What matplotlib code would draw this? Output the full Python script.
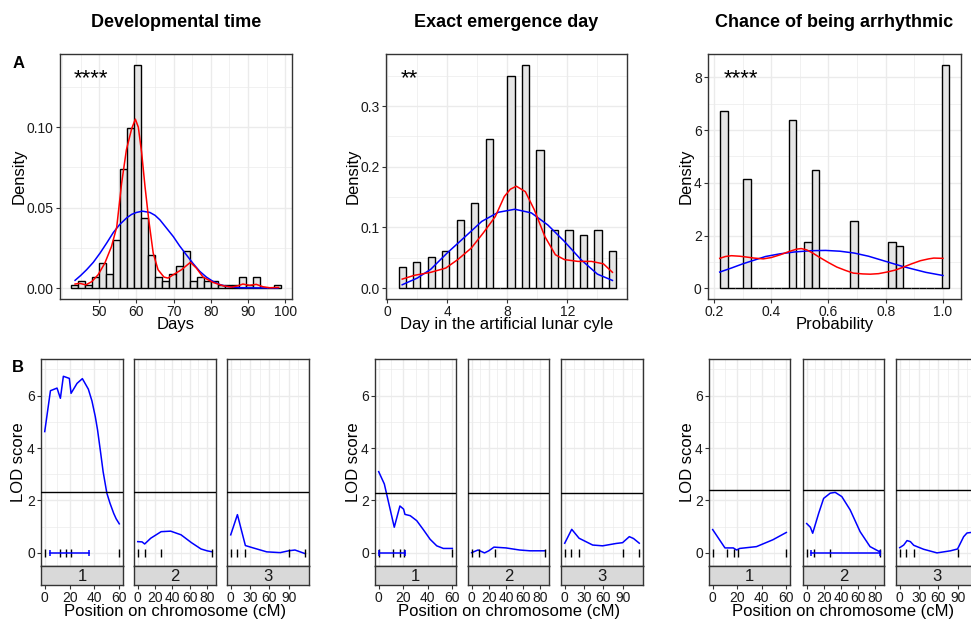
import numpy as np
import matplotlib.pyplot as plt
from matplotlib.ticker import MultipleLocator

plt.rcParams['font.family'] = ['Liberation Sans', 'DejaVu Sans']

W, H = 971, 621

# ---- top row: histograms (30 bins) ----
dev_start, dev_width = 42.4, 1.883
dev_density = [0.0019, 0.0043, 0.0019, 0.0066, 0.0157, 0.0087, 0.0296, 0.0739, 0.0992, 0.1387,
               0.0435, 0.0203, 0.0066, 0.0043, 0.0089, 0.0137, 0.0228, 0.0043, 0.0066, 0.0043,
               0.0043, 0.0019, 0.0019, 0.0019, 0.0066, 0.0019, 0.0066, 0.0, 0.0, 0.0019]

emg_start, emg_width = 0.7586, 0.4828
emg_density = [0.034, 0, 0.043, 0, 0.052, 0, 0.061, 0, 0.113, 0,
               0.140, 0, 0.246, 0, 0, 0.350, 0, 0.368, 0, 0.228,
               0, 0.095, 0, 0.095, 0, 0.087, 0, 0.095, 0, 0.061]

arr_start, arr_width = 0.221, 0.0267
arr_density = [6.71, 0, 0, 4.15, 0, 0, 0, 0, 0, 6.38,
               0, 1.75, 4.47, 0, 0, 0, 0, 2.54, 0, 0,
               0, 0, 1.75, 1.59, 0, 0, 0, 0, 0, 8.47]

# normal fit (blue) and kernel density (red)
dev_norm_x = [43.5, 45.0, 46.6, 48.4, 50.2, 52.0, 53.8, 55.5, 57.3, 58.7, 60.0, 61.6, 63.6, 65.0,
              66.3, 68.0, 69.9, 71.6, 73.4, 75.2, 77.0, 78.8, 80.6, 82.4, 84.2, 87.7, 98.0]
dev_norm_y = [0.0048, 0.0078, 0.0114, 0.0160, 0.0217, 0.0280, 0.0346, 0.0395, 0.0435, 0.0458,
              0.0470, 0.0478, 0.0470, 0.0452, 0.0424, 0.0375, 0.0320, 0.0262, 0.0207, 0.0153,
              0.0104, 0.0068, 0.0041, 0.0022, 0.0010, 0.0002, 0.0]
dev_kde_x = [43.5, 44.8, 46.4, 48.0, 49.7, 51.5, 53.3, 54.7, 56.0, 57.3, 58.7, 59.7, 60.5, 61.4,
             62.3, 63.3, 64.5, 65.8, 67.4, 68.5, 69.9, 72.1, 74.5, 76.1, 77.9, 80.6, 83.3, 85.5,
             87.3, 88.6, 90.4, 92.2, 94.0, 95.8, 98.2]
dev_kde_y = [0.0025, 0.0029, 0.0020, 0.0040, 0.0083, 0.0155, 0.0259, 0.0380, 0.0650, 0.0860,
             0.0990, 0.1050, 0.1000, 0.0840, 0.0630, 0.0424, 0.0217, 0.0114, 0.0068, 0.0062,
             0.0083, 0.0114, 0.0160, 0.0124, 0.0068, 0.0035, 0.0014, 0.0006, 0.0014, 0.0025,
             0.0017, 0.0023, 0.0008, 0.0002, 0.0004]

emg_norm_x = [1.0, 2.0, 2.9, 4.0, 5.2, 6.3, 7.4, 8.5, 9.6, 10.7, 11.8, 12.9, 14.0, 15.0]
emg_norm_y = [0.0055, 0.0165, 0.031, 0.058, 0.085, 0.110, 0.125, 0.130, 0.124, 0.104, 0.077,
              0.047, 0.023, 0.0126]
emg_kde_x = [1.0, 1.8, 2.9, 3.9, 4.7, 5.6, 6.4, 7.2, 7.8, 8.2, 8.6, 9.2, 9.8, 10.5, 11.2, 11.8,
             12.7, 13.6, 14.4, 15.0]
emg_kde_y = [0.0148, 0.021, 0.026, 0.033, 0.047, 0.066, 0.091, 0.118, 0.151, 0.163, 0.168,
             0.159, 0.129, 0.085, 0.055, 0.047, 0.044, 0.044, 0.040, 0.026]

arr_norm_x = [0.22, 0.26, 0.30, 0.34, 0.38, 0.43, 0.48, 0.54, 0.59, 0.64, 0.69, 0.74, 0.78,
              0.82, 0.86, 0.90, 0.94, 1.0]
arr_norm_y = [0.62, 0.77, 0.93, 1.07, 1.21, 1.31, 1.38, 1.43, 1.44, 1.41, 1.34, 1.22, 1.09,
              0.96, 0.83, 0.72, 0.61, 0.49]
arr_kde_x = [0.22, 0.24, 0.261, 0.29, 0.313, 0.34, 0.372, 0.40, 0.43, 0.46, 0.489, 0.505, 0.524,
             0.545, 0.57, 0.60, 0.629, 0.66, 0.687, 0.72, 0.746, 0.775, 0.804, 0.835, 0.862,
             0.89, 0.921, 0.95, 0.968, 1.0]
arr_kde_y = [1.14, 1.21, 1.24, 1.22, 1.19, 1.15, 1.12, 1.17, 1.27, 1.39, 1.49, 1.51, 1.46,
             1.34, 1.17, 0.98, 0.81, 0.68, 0.58, 0.55, 0.54, 0.56, 0.62, 0.70, 0.81, 0.93,
             1.05, 1.12, 1.15, 1.14]

# ---- bottom row: LOD profiles ----
chr_names = ['1', '2', '3']
chr_len = [60, 86, 116]
chr_ticks = [[0, 20, 40, 60], [0, 20, 40, 60, 80], [0, 30, 60, 90]]
chr_markers = [[0, 12, 17, 21, 60], [0, 8, 27, 86], [0, 10, 22, 90, 116]]

dev_c1_pos = [0, 4.6, 9.9, 12.6, 15, 19.8, 21.2, 26, 30.3, 35.1, 38, 40.7, 42.5, 44.7, 47, 50,
              52.5, 55.5, 57.5, 60]
dev_c1_lod = [4.63, 6.19, 6.29, 5.90, 6.74, 6.66, 6.09, 6.47, 6.65, 6.25, 5.80, 5.20, 4.70,
              3.93, 3.10, 2.28, 1.90, 1.51, 1.30, 1.11]
dev_c2_pos = [0, 5, 8, 15, 27, 38, 50, 62, 73, 80, 86]
dev_c2_lod = [0.43, 0.42, 0.34, 0.56, 0.81, 0.83, 0.69, 0.39, 0.15, 0.08, 0.04]
dev_c3_pos = [0, 10.4, 22.8, 35, 56, 77, 90, 100, 116]
dev_c3_lod = [0.69, 1.46, 0.28, 0.19, 0.04, 0.01, 0.08, 0.11, -0.03]

emg_c1_pos = [0, 4.6, 12.7, 17.3, 20.3, 21.4, 25.7, 31, 36.5, 41.9, 47.3, 52.7, 60]
emg_c1_lod = [3.10, 2.63, 0.98, 1.79, 1.67, 1.47, 1.42, 1.23, 0.88, 0.52, 0.27, 0.17, 0.17]
emg_c2_pos = [0, 7.4, 15, 20, 26, 40, 56, 68, 86]
emg_c2_lod = [0.01, 0.11, 0.0, 0.08, 0.22, 0.19, 0.11, 0.08, 0.08]
emg_c3_pos = [0, 10.9, 22.3, 43.5, 59, 80, 90, 100.5, 107, 116]
emg_c3_lod = [0.37, 0.90, 0.56, 0.30, 0.27, 0.36, 0.39, 0.62, 0.55, 0.37]

arr_c1_pos = [0, 10, 16.8, 19.5, 22, 35.7, 49, 60]
arr_c1_lod = [0.89, 0.19, 0.19, 0.11, 0.17, 0.24, 0.50, 0.78]
arr_c2_pos = [0, 4.3, 7, 14, 19.8, 27.5, 33.3, 41, 50.8, 62.4, 74, 86]
arr_c2_lod = [1.12, 0.98, 0.75, 1.51, 2.08, 2.28, 2.31, 2.15, 1.64, 0.81, 0.24, 0.03]
arr_c3_pos = [0, 6.2, 11.4, 16.6, 21.8, 37, 58, 79, 90, 99.5, 104.7, 111]
arr_c3_lod = [0.20, 0.30, 0.47, 0.43, 0.29, 0.14, 0.0, 0.08, 0.15, 0.62, 0.76, 0.78]

thresholds = [2.31, 2.28, 2.40]
ci_chr = [0, 0, 1]           # chromosome index with the interval
ci_lo = [4.6, 0, 5.4]
ci_hi = [35.4, 21.4, 86]

titles = ['Developmental time', 'Exact emergence day', 'Chance of being arrhythmic']
xlabels = ['Days', 'Day in the artificial lunar cyle', 'Probability']
stars = ['****', '**', '****']

BORDER = '#333333'
GRID = '#ebebeb'
TICKC = '#333333'
TICKFS = 10

fig = plt.figure(figsize=(W / 100, H / 100), dpi=100)


def px_axes(l, r, t, b):
    return fig.add_axes([l / W, 1 - b / H, (r - l) / W, (b - t) / H])


def fig_text(x, y, s, **kw):
    fig.text(x / W, 1 - y / H, s, **kw)


def style(ax):
    for sp in ax.spines.values():
        sp.set_color(BORDER)
        sp.set_linewidth(1.0)
    ax.grid(True, which='major', color=GRID, lw=1.0)
    ax.grid(True, which='minor', color=GRID, lw=0.5)
    ax.set_axisbelow(True)
    ax.tick_params(which='major', length=3, width=0.8, color=TICKC, labelcolor='#1a1a1a',
                   labelsize=TICKFS, pad=1.5)
    ax.tick_params(which='minor', length=0)


# ---- top row ----
top_boxes = [(60, 292), (386, 627), (708, 961)]
hist_data = [(dev_start, dev_width, dev_density), (emg_start, emg_width, emg_density),
             (arr_start, arr_width, arr_density)]
curves = [(dev_norm_x, dev_norm_y, dev_kde_x, dev_kde_y),
          (emg_norm_x, emg_norm_y, emg_kde_x, emg_kde_y),
          (arr_norm_x, arr_norm_y, arr_kde_x, arr_kde_y)]
xlims = [(39.45, 101.8), (-0.08, 15.97), (0.179, 1.063)]
ylims = [(-0.0068, 0.1455), (-0.018, 0.386), (-0.40, 8.88)]
xticks = [[50, 60, 70, 80, 90, 100], [0, 4, 8, 12], [0.2, 0.4, 0.6, 0.8, 1.0]]
xminor = [5, 2, 0.1]
yticks = [[0, 0.05, 0.10], [0, 0.1, 0.2, 0.3], [0, 2, 4, 6, 8]]
yticklabels = [['0.00', '0.05', '0.10'], ['0.0', '0.1', '0.2', '0.3'], ['0', '2', '4', '6', '8']]
yminor = [0.025, 0.05, 1]
xticklabels = [None, None, ['0.2', '0.4', '0.6', '0.8', '1.0']]

for i in range(3):
    l, r = top_boxes[i]
    ax = px_axes(l, r, 54, 299)
    start, width, dens = hist_data[i]
    edges = start + width * np.arange(len(dens))
    ax.bar(edges, dens, width=width, align='edge', color='#e5e5e5', edgecolor='black', lw=1.0,
           zorder=2)
    nx, ny, kx, ky = curves[i]
    ax.plot(nx, ny, color='blue', lw=1.1, zorder=3)
    ax.plot(kx, ky, color='red', lw=1.1, zorder=3)
    ax.set_xlim(*xlims[i])
    ax.set_ylim(*ylims[i])
    ax.set_xticks(xticks[i])
    if xticklabels[i]:
        ax.set_xticklabels(xticklabels[i])
    ax.xaxis.set_minor_locator(MultipleLocator(xminor[i]))
    ax.set_yticks(yticks[i])
    ax.set_yticklabels(yticklabels[i])
    ax.yaxis.set_minor_locator(MultipleLocator(yminor[i]))
    style(ax)
    cx = (l + r) / 2
    fig_text(cx, 27, titles[i], ha='center', va='baseline', fontsize=13, fontweight='bold')
    fig_text(cx, 329.5, xlabels[i], ha='center', va='baseline', fontsize=12)
    fig_text([19, 353, 686][i], 176.5, 'Density', ha='center', va='center', rotation=90,
             fontsize=12)
    fig_text([91, 409, 741][i], 84, stars[i], ha='center', va='baseline', fontsize=16)

fig_text(19, 68, 'A', ha='center', va='baseline', fontsize=12, fontweight='bold')
fig_text(18, 372, 'B', ha='center', va='baseline', fontsize=12, fontweight='bold')

# ---- bottom row ----
facet_boxes = [[(41, 123), (134, 216), (227, 309)],
               [(375, 456), (468, 549), (561, 643)],
               [(709, 790), (803, 884), (896, 978)]]
lod_pos = [[dev_c1_pos, dev_c2_pos, dev_c3_pos],
           [emg_c1_pos, emg_c2_pos, emg_c3_pos],
           [arr_c1_pos, arr_c2_pos, arr_c3_pos]]
lod_val = [[dev_c1_lod, dev_c2_lod, dev_c3_lod],
           [emg_c1_lod, emg_c2_lod, emg_c3_lod],
           [arr_c1_lod, arr_c2_lod, arr_c3_lod]]
chr_minor = [10, 10, 15]

for i in range(3):
    for c in range(3):
        l, r = facet_boxes[i][c]
        ax = px_axes(l, r, 359, 566)
        pad = 0.05 * chr_len[c]
        ax.plot(lod_pos[i][c], lod_val[i][c], color='blue', lw=1.1, zorder=3)
        ax.axhline(thresholds[i], color='black', lw=1.0, zorder=3)
        ax.vlines(chr_markers[c], -0.15, 0.15, color='black', lw=1.0, zorder=3)
        if ci_chr[i] == c:
            ax.plot([ci_lo[i], ci_hi[i]], [0, 0], color='blue', lw=1.1, zorder=4)
            ax.vlines([ci_lo[i], ci_hi[i]], -0.12, 0.12, color='blue', lw=1.1, zorder=4)
        ax.set_xlim(-pad, chr_len[c] + pad)
        ax.set_ylim(-0.5, 7.4)
        ax.set_xticks(chr_ticks[c])
        ax.xaxis.set_minor_locator(MultipleLocator(chr_minor[c]))
        ax.set_yticks([0, 2, 4, 6])
        ax.yaxis.set_minor_locator(MultipleLocator(1))
        style(ax)
        ax.tick_params(axis='x', which='both', length=0, labelbottom=False)
        if c > 0:
            ax.tick_params(axis='y', which='both', length=0, labelleft=False)

        sx = px_axes(l, r, 566, 585)
        sx.set_facecolor('#d9d9d9')
        for sp in sx.spines.values():
            sp.set_color(BORDER)
            sp.set_linewidth(1.0)
        sx.set_xlim(-pad, chr_len[c] + pad)
        sx.set_ylim(0, 1)
        sx.set_yticks([])
        sx.set_xticks(chr_ticks[c])
        sx.tick_params(axis='x', length=3, width=0.8, color=TICKC, labelcolor='#1a1a1a',
                       labelsize=TICKFS, pad=1.5)
        sx.text(0.5, 0.45, chr_names[c], transform=sx.transAxes, ha='center', va='center',
                fontsize=12, color='#1a1a1a')
    gl = facet_boxes[i][0][0]
    gr = facet_boxes[i][2][1]
    fig_text((gl + gr) / 2, 616, 'Position on chromosome (cM)', ha='center', va='baseline',
             fontsize=12)
    fig_text([19, 353, 687][i], 462, 'LOD score', ha='center', va='center', rotation=90,
             fontsize=12)

fig.savefig('out.png', dpi=100)
